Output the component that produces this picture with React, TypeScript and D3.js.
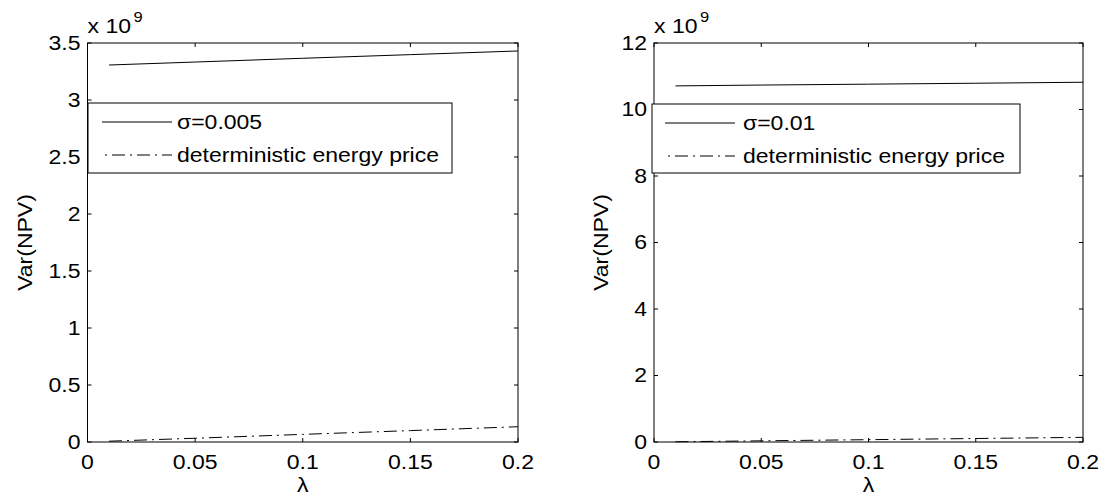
import React from "react";
import * as d3 from "d3";

const lambdaVals = [0.01, 0.05, 0.1, 0.15, 0.2];
const leftSigma = [3.307, 3.333, 3.366, 3.398, 3.43];
const leftDet = [0.007, 0.033, 0.067, 0.1, 0.134];
const rightSigma = [10.71, 10.735, 10.762, 10.79, 10.82];
const rightDet = [0.007, 0.035, 0.07, 0.105, 0.14];

const xTicks = [0, 0.05, 0.1, 0.15, 0.2];
const xTickLabels = ["0", "0.05", "0.1", "0.15", "0.2"];
const leftYTicks = [0, 0.5, 1, 1.5, 2, 2.5, 3, 3.5];
const leftYLabels = ["0", "0.5", "1", "1.5", "2", "2.5", "3", "3.5"];
const rightYTicks = [0, 2, 4, 6, 8, 10, 12];
const rightYLabels = ["0", "2", "4", "6", "8", "10", "12"];

const FONT = "'Liberation Sans', Arial, Helvetica, sans-serif";
const SX = 1.18;
const FS = 19.5;

function T(props: any) {
  const { x, y, anchor = "start", size = FS, rotate = false, dy, children } = props;
  return (
    <text
      transform={`translate(${x},${y})${rotate ? " rotate(-90)" : ""} scale(${SX},1)`}
      textAnchor={anchor}
      fontSize={size}
      fontFamily={FONT}
      dy={dy}
      fill="#000"
    >
      {children}
    </text>
  );
}

type PanelProps = {
  left: number;
  right: number;
  top: number;
  bottom: number;
  yMax: number;
  yTicks: number[];
  yLabels: string[];
  sigma: number[];
  det: number[];
  sigmaLabel: string;
  legend: { x0: number; x1: number; y0: number; y1: number; s0: number; s1: number; tx: number };
  ylabelX: number;
};

function Panel(p: PanelProps) {
  const x = d3.scaleLinear().domain([0, 0.2]).range([p.left, p.right]);
  const y = d3.scaleLinear().domain([0, p.yMax]).range([p.bottom, p.top]);
  const pts1: [number, number][] = lambdaVals.map((l, i) => [x(l), y(p.sigma[i])]);
  const pts2: [number, number][] = lambdaVals.map((l, i) => [x(l), y(p.det[i])]);
  const line = d3.line();
  const tl = 4;
  const dash = "13,5,2,5";
  const lg = p.legend;
  const row1 = lg.y0 + 19;
  const row2 = lg.y0 + 52;
  return (
    <g>
      <path d={line(pts1) || ""} fill="none" stroke="#000" strokeWidth={1} />
      <path d={line(pts2) || ""} fill="none" stroke="#000" strokeWidth={1} strokeDasharray={dash} />
      <rect x={p.left} y={p.top} width={p.right - p.left} height={p.bottom - p.top} fill="none" stroke="#000" strokeWidth={1} />
      {xTicks.map((t, i) => (
        <g key={"xt" + i}>
          <line x1={x(t)} x2={x(t)} y1={p.bottom} y2={p.bottom - tl} stroke="#000" />
          <line x1={x(t)} x2={x(t)} y1={p.top} y2={p.top + tl} stroke="#000" />
          <T x={x(t)} y={p.bottom + 27} anchor="middle">{xTickLabels[i]}</T>
        </g>
      ))}
      {p.yTicks.map((t, i) => (
        <g key={"yt" + i}>
          <line x1={p.left} x2={p.left + tl} y1={y(t)} y2={y(t)} stroke="#000" />
          <line x1={p.right} x2={p.right - tl} y1={y(t)} y2={y(t)} stroke="#000" />
          <T x={p.left - 7} y={y(t)} anchor="end" dy="0.35em">{p.yLabels[i]}</T>
        </g>
      ))}
      <T x={p.left} y={p.top - 10} anchor="start">x 10</T>
      <T x={p.left + 46} y={p.top - 21} anchor="start" size={14}>9</T>
      <T x={(p.left + p.right) / 2} y={p.bottom + 50} anchor="middle">λ</T>
      <T x={p.ylabelX} y={(p.top + p.bottom) / 2} anchor="middle" rotate>Var(NPV)</T>
      <rect x={lg.x0} y={lg.y0} width={lg.x1 - lg.x0} height={lg.y1 - lg.y0} fill="#fff" stroke="#000" strokeWidth={1} />
      <line x1={lg.s0} x2={lg.s1} y1={row1} y2={row1} stroke="#000" />
      <line x1={lg.s0} x2={lg.s1} y1={row2} y2={row2} stroke="#000" strokeDasharray={dash} strokeDashoffset={-10} />
      <T x={lg.tx} y={row1} dy="0.35em">{p.sigmaLabel}</T>
      <T x={lg.tx} y={row2} dy="0.35em">deterministic energy price</T>
    </g>
  );
}

export default function App() {
  return (
    <svg width={1116} height={498} style={{ position: "absolute", left: 0, top: 0, background: "#fff" }}>
      <rect width={1116} height={498} fill="#fff" />
      <Panel
        left={87.5}
        right={518}
        top={43}
        bottom={442}
        yMax={3.5}
        yTicks={leftYTicks}
        yLabels={leftYLabels}
        sigma={leftSigma}
        det={leftDet}
        sigmaLabel="σ=0.005"
        legend={{ x0: 88, x1: 452, y0: 103, y1: 173, s0: 102, s1: 172, tx: 177 }}
        ylabelX={32}
      />
      <Panel
        left={654}
        right={1083}
        top={43}
        bottom={442}
        yMax={12}
        yTicks={rightYTicks}
        yLabels={rightYLabels}
        sigma={rightSigma}
        det={rightDet}
        sigmaLabel="σ=0.01"
        legend={{ x0: 652, x1: 1020, y0: 104, y1: 173, s0: 665, s1: 735, tx: 743 }}
        ylabelX={608}
      />
    </svg>
  );
}
